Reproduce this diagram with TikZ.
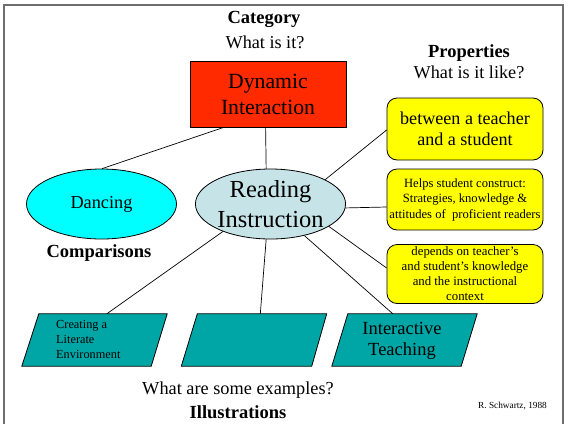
\documentclass[tikz,border=0pt]{standalone}
\usepackage{fontspec}
\setmainfont{Liberation Serif}
\usetikzlibrary{shapes.geometric,calc}
\definecolor{dynred}{RGB}{255,42,0}
\definecolor{dancecyan}{RGB}{0,255,255}
\definecolor{readblue}{RGB}{198,228,232}
\definecolor{propyellow}{RGB}{255,255,0}
\definecolor{parateal}{RGB}{0,166,166}
\definecolor{framegray}{RGB}{110,110,110}
\newcommand{\myfs}[2]{\fontsize{#1}{#2}\selectfont}
\begin{document}
\begin{tikzpicture}[x=1pt,y=-1pt,
  lbl/.style={inner sep=0pt, align=center},
  outl/.style={draw=black, line width=0.8pt},
  conn/.style={draw=black, line width=0.7pt},
  propbox/.style={outl, rounded corners=10pt, fill=propyellow, minimum width=156pt, inner sep=0pt, align=center},
  parashape/.style={outl, fill=parateal},
  parabox/.style={inner sep=0pt, minimum width=145pt, minimum height=52pt, align=center}
]
\useasboundingbox (0,0) rectangle (565,424);
\fill[white] (0,0) rectangle (565,424);
\draw[framegray, line width=1.5pt] (4,424) -- (4,5) -- (563,5) -- (563,424);

% headings
\node[lbl, font=\rmfamily\bfseries\myfs{18.5}{21}] (cat) at (264,19.5) {Category};
\node[lbl, font=\rmfamily\myfs{18.2}{21}] (catq) at (265,42) {What is it?};
\node[lbl, font=\rmfamily\bfseries\myfs{18.5}{21}] (prop) at (469,53.5) {Properties};
\node[lbl, font=\rmfamily\myfs{18.2}{21}] (propq) at (469,72) {What is it like?};
\node[lbl, font=\rmfamily\bfseries\myfs{18.5}{21}] (comp) at (99,253.5) {Comparisons};
\node[lbl, font=\rmfamily\myfs{18.3}{21}] (exq) at (238,390) {What are some examples?};
\node[lbl, font=\rmfamily\bfseries\myfs{18.5}{21}] (ill) at (238,412) {Illustrations};
\node[lbl, font=\rmfamily\myfs{9.3}{11}] (cred) at (512.5,406) {R. Schwartz, 1988};

% main nodes
\node[outl, fill=dynred, minimum width=156pt, minimum height=66pt, inner sep=0pt, align=center,
      font=\rmfamily\myfs{21.7}{26}] (dyn) at (268,94) {Dynamic\\Interaction};
\node[outl, ellipse, fill=readblue, minimum width=150pt, minimum height=70pt, inner sep=0pt, align=center,
      font=\rmfamily\myfs{24.5}{30}] (read) at (270.5,204) {Reading\\Instruction};
\node[outl, ellipse, fill=dancecyan, minimum width=150pt, minimum height=70pt, inner sep=0pt,
      font=\rmfamily\myfs{18.3}{21}] (danc) at (101.5,204) {Dancing};

% property boxes
\node[propbox, minimum height=62pt, font=\rmfamily\myfs{18.1}{21}] (y1) at (465,129) {between a teacher\\and a student};
\node[propbox, minimum height=61pt, font=\rmfamily\myfs{12.6}{15.5}] (y2) at (465,199.5) {Helps student construct:\\Strategies, knowledge \&\\attitudes of\ \ proficient readers};
\node[propbox, minimum height=59pt, font=\rmfamily\myfs{12.8}{15}] (y3) at (465,274) {depends on teacher's\\and student's knowledge\\and the instructional\\context};

% illustration parallelograms
\node[parabox] (p1) at (94.5,340) {};
\node[parabox] (p2) at (254,340) {};
\node[parabox] (p3) at (404.5,340) {};
\draw[parashape] ($(p1.north west)+(17,0)$) -- (p1.north east) -- ($(p1.south east)+(-16,0)$) -- (p1.south west) -- cycle;
\draw[parashape] ($(p2.north west)+(16,0)$) -- (p2.north east) -- ($(p2.south east)+(-15,0)$) -- (p2.south west) -- cycle;
\draw[parashape] ($(p3.north west)+(16,0)$) -- (p3.north east) -- ($(p3.south east)+(-16,0)$) -- (p3.south west) -- cycle;
\node[lbl, anchor=west, align=left, font=\rmfamily\myfs{12.3}{15}] (p1t) at (56,339) {Creating a\\Literate\\Environment};
\node[lbl, font=\rmfamily\myfs{18.5}{21}] (p3t) at (402,340.5) {Interactive\\Teaching};

% connector ends
\coordinate (dynA) at ($(dyn.south west)+(34,0)$);
\coordinate (dynB) at ($(dyn.south west)+(76,0)$);
\coordinate (y1in) at ($(y1.west)+(0,1)$);
\coordinate (y2in) at ($(y2.west)+(0,7.5)$);
\coordinate (y3in) at ($(y3.west)+(0,-6)$);
\coordinate (p1in) at ($(p1.north west)+(85,0)$);
\coordinate (p2in) at ($(p2.north west)+(79,0)$);
\coordinate (p3in) at ($(p3.north west)+(61,0)$);

% connectors
\draw[conn] (dynA) -- (danc.89);
\draw[conn] (dynB) -- (read.97);
\draw[conn] (read.24.7) -- (y1in);
\draw[conn] (read.-3) -- (y2in);
\draw[conn] (read.-21.8) -- (y3in);
\draw[conn] (read.-43.6) -- (p3in);
\draw[conn] (read.-97) -- (p2in);
\draw[conn] (read.-150) -- (p1in);
\end{tikzpicture}
\end{document}
